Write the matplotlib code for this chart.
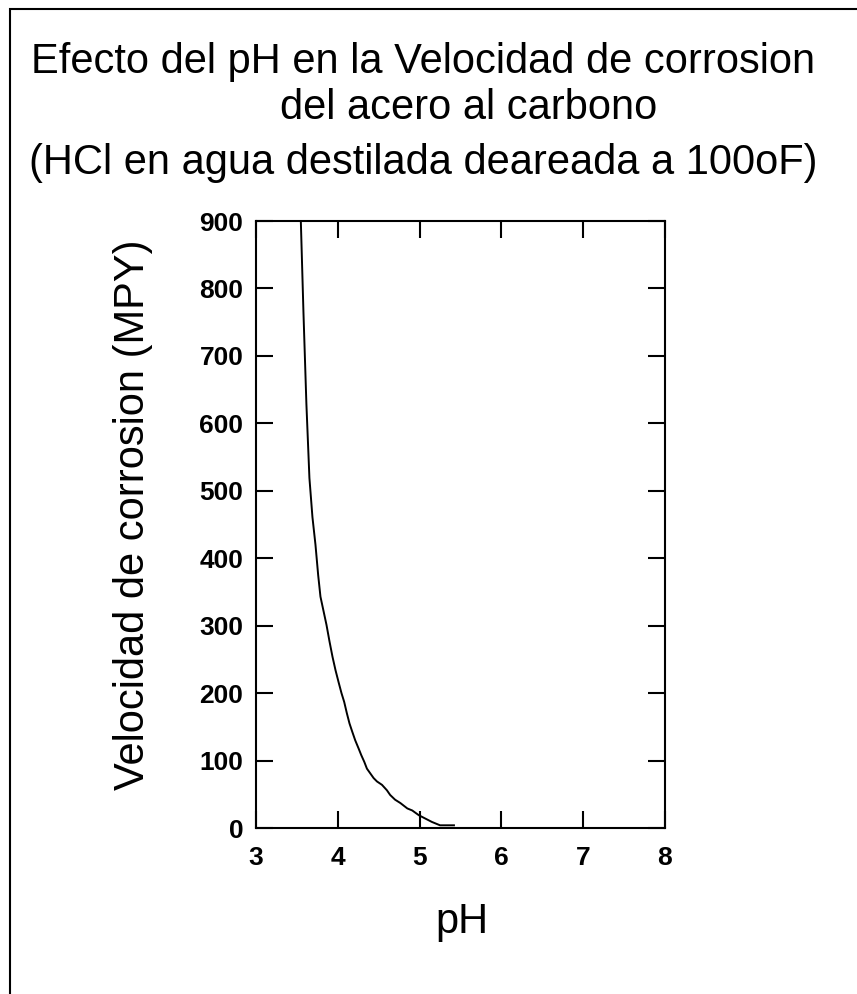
import matplotlib
matplotlib.use("Agg")
import matplotlib.pyplot as plt
from matplotlib.patches import Rectangle

# data
ph = [3.548, 3.580, 3.616, 3.653, 3.690, 3.727, 3.760, 3.788, 3.825, 3.862,
      3.898, 3.935, 3.972, 4.010, 4.045, 4.078, 4.111, 4.143, 4.176, 4.213,
      4.254, 4.287, 4.324, 4.356, 4.397, 4.438, 4.479, 4.540, 4.600, 4.640,
      4.700, 4.765, 4.850, 4.910, 4.990, 5.070, 5.150, 5.250, 5.420]
mpy = [900, 765, 629, 519, 461, 420, 375, 343, 322, 301,
       277, 254, 234, 216, 200, 187, 170, 155, 143, 130,
       118, 108, 98, 88, 81, 74, 69, 64, 56, 49,
       42, 37, 29, 26, 19, 14, 9, 4, 4]
x_ticks = [3, 4, 5, 6, 7, 8]
y_ticks = [0, 100, 200, 300, 400, 500, 600, 700, 800, 900]

title_lines = ["Efecto del pH en la Velocidad de corrosion",
               "del acero al carbono",
               "(HCl en agua destilada deareada a 100oF)"]

W, H = 857, 994
plt.rcParams['font.family'] = ['Liberation Sans', 'DejaVu Sans']

fig = plt.figure(figsize=(W / 100, H / 100), dpi=100)
fig.patch.set_facecolor('white')

# outer frame (only top and left edges visible)
fig.patches.append(Rectangle((10 / W, -0.1), 1.2, 1 - 9 / H + 0.1,
                             transform=fig.transFigure, fill=False,
                             edgecolor='black', linewidth=1.5))

ax = fig.add_axes([256 / W, 1 - 828 / H, (665 - 256) / W, (828 - 221) / H])
ax.plot(ph, mpy, color='black', linewidth=1.4)
ax.set_xlim(3, 8)
ax.set_ylim(0, 900)
ax.set_xticks(x_ticks)
ax.set_yticks(y_ticks)
ax.tick_params(direction='in', length=12, width=1.5, top=True, right=True,
               labelsize=19)
ax.tick_params(axis='x', pad=13)
ax.tick_params(axis='y', pad=9)
for lbl in ax.get_xticklabels() + ax.get_yticklabels():
    lbl.set_fontweight('bold')
for s in ax.spines.values():
    s.set_linewidth(1.5)

# titles and axis labels
fig.text(423 / W, 1 - 62 / H, title_lines[0], ha='center', va='center', fontsize=30)
fig.text(469 / W, 1 - 108 / H, title_lines[1], ha='center', va='center', fontsize=30)
fig.text(423 / W, 1 - 163 / H, title_lines[2], ha='center', va='center', fontsize=30)
fig.text(133 / W, 1 - 515 / H, "Velocidad de corrosion (MPY)", rotation=90,
         ha='center', va='center', fontsize=30)
fig.text(462 / W, 1 - 922 / H, "pH", ha='center', va='center', fontsize=30)

fig.savefig("out.png", dpi=100)
